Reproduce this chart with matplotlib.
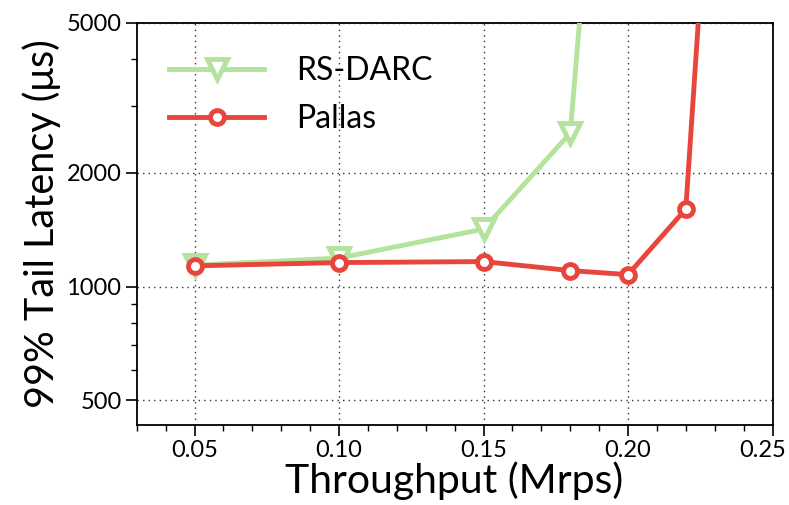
import matplotlib
matplotlib.use("Agg")
import matplotlib.pyplot as plt
import matplotlib.transforms as mtransforms
from matplotlib.ticker import FixedLocator, NullFormatter, LogLocator

plt.rcParams['font.family'] = ['Lato', 'DejaVu Sans']

# data
rs_x = [0.05, 0.10, 0.15, 0.18, 0.19]
rs_y = [1140, 1190, 1420, 2550, 21000]
pallas_x = [0.05, 0.10, 0.15, 0.18, 0.20, 0.22, 0.23]
pallas_y = [1135, 1158, 1165, 1103, 1076, 1605, 22500]

x_ticks = [0.05, 0.10, 0.15, 0.20, 0.25]
y_ticks = [500, 1000, 2000, 5000]

green = '#b3e39d'
red = '#e8453c'

fig = plt.figure(figsize=(7.89, 5.05), dpi=100)
ax = fig.add_axes([0.1733, 0.1584, 0.8058, 0.7966])

ax.plot(rs_x, rs_y, color=green, lw=3.5, marker='v', ms=15, mew=3.5,
        mfc='white', mec=green, label='RS-DARC', zorder=3)
ax.plot(pallas_x, pallas_y, color=red, lw=3.5, marker='o', ms=10, mew=3.5,
        mfc='white', mec=red, label='Pallas', zorder=4)

ax.set_yscale('log')
ax.set_xlim(0.03, 0.25)
ax.set_ylim(430, 5000)

ax.set_xticks(x_ticks)
ax.set_xticklabels(['%.2f' % v for v in x_ticks])
ax.xaxis.set_minor_locator(FixedLocator([0.03, 0.04, 0.06, 0.07, 0.08, 0.09, 0.11, 0.12, 0.13,
                                         0.14, 0.16, 0.17, 0.18, 0.19, 0.21, 0.22, 0.23, 0.24]))
ax.yaxis.set_major_locator(FixedLocator(y_ticks))
ax.set_yticklabels([str(v) for v in y_ticks])
ax.yaxis.set_minor_locator(LogLocator(base=10, subs=range(2, 10)))
ax.yaxis.set_minor_formatter(NullFormatter())

ax.tick_params(which='major', direction='out', length=8, width=1.2, labelsize=17, pad=3)
ax.tick_params(which='minor', direction='out', length=4.5, width=1.0)
for s in ax.spines.values():
    s.set_linewidth(1.3)

# last x label sits a bit left so it stays inside the figure
last = ax.get_xticklabels()[-1]
last.set_transform(last.get_transform() + mtransforms.ScaledTranslation(-0.10, 0, fig.dpi_scale_trans))

ax.grid(True, which='major', linestyle=(0, (1, 3)), color='black', lw=1.0, alpha=0.8)

ax.set_xlabel('Throughput (Mrps)', fontsize=29.5, labelpad=0)
ax.set_ylabel('99% Tail Latency (μs)', fontsize=28.5, labelpad=4)

ax.legend(loc='upper left', frameon=False, fontsize=23, handlelength=3.0,
          handletextpad=1.0, labelspacing=0.55, borderaxespad=0.3,
          bbox_to_anchor=(0.015, 0.972))

fig.savefig('out.png', dpi=100)
